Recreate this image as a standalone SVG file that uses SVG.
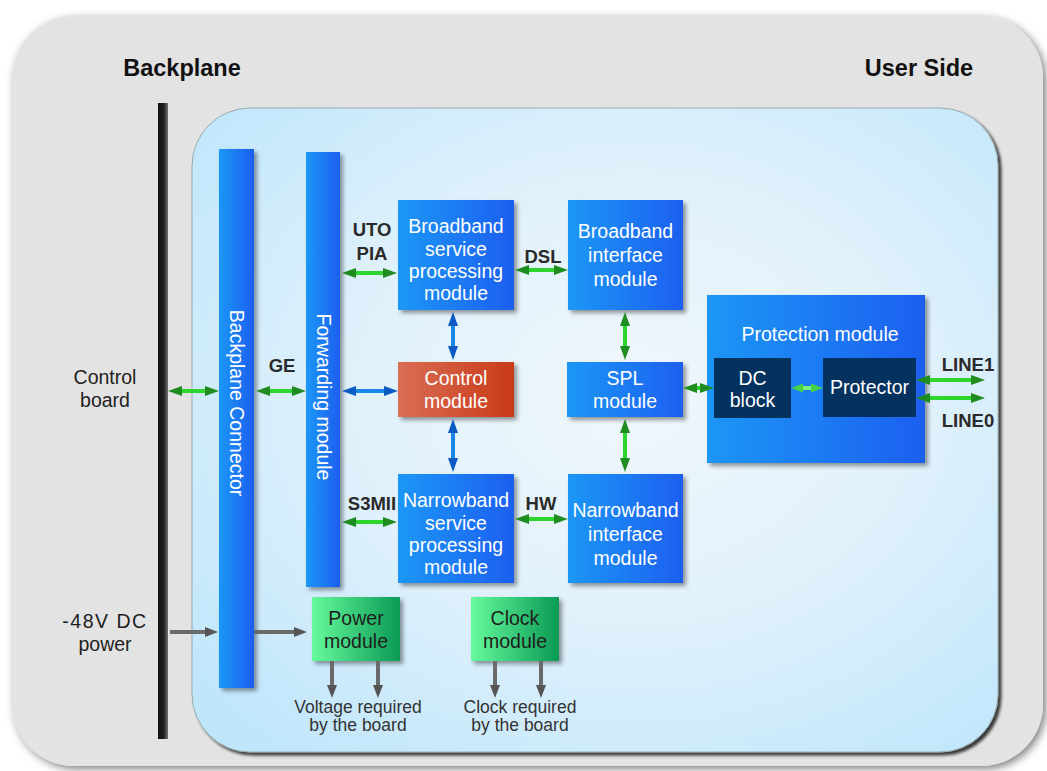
<svg xmlns="http://www.w3.org/2000/svg" width="1047" height="771" viewBox="0 0 1047 771">
<defs>
<style>
.mt{font-family:"Liberation Sans",Arial,sans-serif;font-size:19.5px;fill:#fff;text-anchor:middle}
.dt{font-family:"Liberation Sans",Arial,sans-serif;font-size:19.5px;fill:#1e1e1e;text-anchor:middle}
.st{font-family:"Liberation Sans",Arial,sans-serif;font-size:17.5px;fill:#333;text-anchor:middle}
.lb{font-family:"Liberation Sans",Arial,sans-serif;font-size:18.5px;font-weight:bold;fill:#2a2a2a;text-anchor:middle}
.hd{font-family:"Liberation Sans",Arial,sans-serif;font-size:23.5px;font-weight:bold;fill:#111;text-anchor:middle}
.ga{stroke:#2fd52f;stroke-width:4;fill:none;marker-start:url(#mg);marker-end:url(#mg)}
.la{stroke:#7af07a;stroke-width:4;fill:none;marker-start:url(#ml);marker-end:url(#ml)}
.ba{stroke:#1a86e8;stroke-width:4;fill:none;marker-start:url(#mb);marker-end:url(#mb)}
.ya{stroke:#6a6a6a;stroke-width:4;fill:none;marker-end:url(#my)}
</style>
<linearGradient id="gBlue" x1="0" y1="0" x2="1" y2="0">
<stop offset="0" stop-color="#1f97f6"/><stop offset="1" stop-color="#1f5ff0"/>
</linearGradient>
<linearGradient id="gRed" x1="0" y1="0" x2="1" y2="0">
<stop offset="0" stop-color="#da6e55"/><stop offset="1" stop-color="#c93a18"/>
</linearGradient>
<linearGradient id="gGreen" x1="0" y1="0" x2="1" y2="0">
<stop offset="0" stop-color="#66fa9c"/><stop offset="1" stop-color="#0a9a55"/>
</linearGradient>
<linearGradient id="gBar" x1="0" y1="0" x2="1" y2="0">
<stop offset="0" stop-color="#111"/><stop offset="0.6" stop-color="#222"/><stop offset="1" stop-color="#777"/>
</linearGradient>
<radialGradient id="gPanel" cx="0.55" cy="0.45" r="0.7">
<stop offset="0" stop-color="#f0f7fb"/><stop offset="0.5" stop-color="#e0f1fb"/><stop offset="1" stop-color="#c0e6fc"/>
</radialGradient>
<filter id="sh" x="-20%" y="-20%" width="150%" height="150%">
<feDropShadow dx="3" dy="3" stdDeviation="2" flood-color="#000" flood-opacity="0.4"/>
</filter>
<filter id="shP" x="-5%" y="-5%" width="110%" height="110%">
<feDropShadow dx="3" dy="3" stdDeviation="1.5" flood-color="#000" flood-opacity="0.75"/>
</filter>
<filter id="shO" x="-5%" y="-5%" width="110%" height="110%">
<feDropShadow dx="3" dy="3" stdDeviation="4" flood-color="#000" flood-opacity="0.5"/>
</filter>
<marker id="mg" markerUnits="userSpaceOnUse" markerWidth="14" markerHeight="10" refX="8" refY="5" orient="auto-start-reverse" viewBox="0 0 14 10">
<path d="M0,0 L14,5 L0,10 z" fill="#1f8c1f"/>
</marker>
<marker id="ml" markerUnits="userSpaceOnUse" markerWidth="12" markerHeight="9" refX="7" refY="4.5" orient="auto-start-reverse" viewBox="0 0 12 9">
<path d="M0,0 L12,4.5 L0,9 z" fill="#45d045"/>
</marker>
<marker id="mb" markerUnits="userSpaceOnUse" markerWidth="14" markerHeight="10" refX="8" refY="5" orient="auto-start-reverse" viewBox="0 0 14 10">
<path d="M0,0 L14,5 L0,10 z" fill="#0a5cc4"/>
</marker>
<marker id="my" markerUnits="userSpaceOnUse" markerWidth="13" markerHeight="10" refX="7" refY="5" orient="auto" viewBox="0 0 13 10">
<path d="M0,0 L13,5 L0,10 z" fill="#555"/>
</marker>
</defs>

<rect x="0" y="0" width="1047" height="771" fill="#fff"/>

<g id="frame">
<rect x="12" y="16" width="1031" height="750" rx="62" fill="#e3e3e3" filter="url(#shO)"/>
<text class="hd" x="182" y="76">Backplane</text>
<text class="hd" x="919" y="76">User Side</text>
<rect x="192" y="108" width="806" height="644" rx="58" fill="url(#gPanel)" stroke="#9aa" stroke-width="1" filter="url(#shP)"/>
<rect x="158" y="103" width="10" height="636" fill="url(#gBar)"/>
</g>

<g id="labels-left">
<text class="dt" x="105" y="384">Control</text>
<text class="dt" x="105" y="407">board</text>
<text class="dt" x="105" y="628" letter-spacing="1.5">-48V DC</text>
<text class="dt" x="105" y="651">power</text>
</g>

<g id="backplane-connector">
<rect x="219" y="149" width="35" height="539" fill="url(#gBlue)" filter="url(#sh)"/>
<text class="mt" transform="translate(236,403) rotate(90)" x="0" y="6">Backplane Connector</text>
</g>

<g id="forwarding-module">
<rect x="306" y="152" width="34" height="435" fill="url(#gBlue)" filter="url(#sh)"/>
<text class="mt" transform="translate(323,397) rotate(90)" x="0" y="6">Forwarding module</text>
</g>

<g id="broadband-service">
<rect x="398" y="200" width="116" height="110" fill="url(#gBlue)" filter="url(#sh)"/>
<text class="mt" x="456" y="233">Broadband</text>
<text class="mt" x="456" y="255.5">service</text>
<text class="mt" x="456" y="278">processing</text>
<text class="mt" x="456" y="300">module</text>
</g>

<g id="broadband-interface">
<rect x="568" y="200" width="115" height="110" fill="url(#gBlue)" filter="url(#sh)"/>
<text class="mt" x="625.5" y="238">Broadband</text>
<text class="mt" x="625.5" y="262">interface</text>
<text class="mt" x="625.5" y="286">module</text>
</g>

<g id="control-module">
<rect x="398" y="362" width="116" height="55" fill="url(#gRed)" filter="url(#sh)"/>
<text class="mt" x="456" y="385">Control</text>
<text class="mt" x="456" y="408">module</text>
</g>

<g id="spl-module">
<rect x="567" y="362" width="116" height="55" fill="url(#gBlue)" filter="url(#sh)"/>
<text class="mt" x="625" y="385">SPL</text>
<text class="mt" x="625" y="408">module</text>
</g>

<g id="narrowband-service">
<rect x="398" y="474" width="116" height="109" fill="url(#gBlue)" filter="url(#sh)"/>
<text class="mt" x="456" y="507">Narrowband</text>
<text class="mt" x="456" y="529.5">service</text>
<text class="mt" x="456" y="552">processing</text>
<text class="mt" x="456" y="574">module</text>
</g>

<g id="narrowband-interface">
<rect x="568" y="474" width="115" height="109" fill="url(#gBlue)" filter="url(#sh)"/>
<text class="mt" x="625.5" y="517">Narrowband</text>
<text class="mt" x="625.5" y="541">interface</text>
<text class="mt" x="625.5" y="565">module</text>
</g>

<g id="protection-module">
<rect x="707" y="295" width="218" height="168" fill="url(#gBlue)" filter="url(#sh)"/>
<text class="mt" x="820" y="341">Protection module</text>
</g>

<g id="dc-block">
<rect x="714" y="358" width="77" height="60" fill="#03325f"/>
<text class="mt" x="752.5" y="385">DC</text>
<text class="mt" x="752.5" y="407">block</text>
</g>

<g id="protector">
<rect x="823" y="358" width="93" height="59" fill="#03325f"/>
<text class="mt" x="869.5" y="394">Protector</text>
</g>

<g id="power-module">
<rect x="312" y="597" width="88" height="64" fill="url(#gGreen)" filter="url(#sh)"/>
<text class="dt" x="356" y="625">Power</text>
<text class="dt" x="356" y="648">module</text>
</g>

<g id="clock-module">
<rect x="471" y="597" width="88" height="64" fill="url(#gGreen)" filter="url(#sh)"/>
<text class="dt" x="515" y="625">Clock</text>
<text class="dt" x="515" y="648">module</text>
</g>

<g id="connectors">
<line class="ga" x1="174" y1="391" x2="213" y2="391"/>
<line class="ga" x1="262" y1="391" x2="300" y2="391"/>
<line class="ba" x1="348" y1="391" x2="392" y2="391"/>
<line class="ga" x1="348" y1="273" x2="391" y2="273"/>
<line class="ga" x1="521" y1="270" x2="562" y2="270"/>
<line class="ga" x1="348" y1="522" x2="391" y2="522"/>
<line class="ga" x1="521" y1="519" x2="562" y2="519"/>
<line class="ba" x1="453" y1="318" x2="453" y2="354"/>
<line class="ba" x1="453" y1="425" x2="453" y2="466"/>
<line class="ga" x1="625" y1="318" x2="625" y2="354"/>
<line class="ga" x1="625" y1="425" x2="625" y2="466"/>
<line class="ga" x1="689" y1="388" x2="708" y2="388"/>
<line class="la" x1="796" y1="388" x2="818" y2="388"/>
<line class="ga" x1="922" y1="380" x2="979" y2="380"/>
<line class="ga" x1="922" y1="398" x2="979" y2="398"/>
<line class="ya" x1="170" y1="632" x2="212" y2="632"/>
<line class="ya" x1="254" y1="632" x2="301" y2="632"/>
<line class="ya" x1="332" y1="661" x2="332" y2="692"/>
<line class="ya" x1="378" y1="661" x2="378" y2="692"/>
<line class="ya" x1="495" y1="661" x2="495" y2="692"/>
<line class="ya" x1="541" y1="661" x2="541" y2="692"/>
<text class="lb" x="282" y="372">GE</text>
<text class="lb" x="372" y="236">UTO</text>
<text class="lb" x="372" y="260">PIA</text>
<text class="lb" x="543" y="263">DSL</text>
<text class="lb" x="372" y="510">S3MII</text>
<text class="lb" x="541" y="510">HW</text>
<text class="lb" x="968" y="371" font-size="19">LINE1</text>
<text class="lb" x="968" y="427" font-size="19">LINE0</text>
<text class="st" x="358" y="713">Voltage required</text>
<text class="st" x="358" y="731">by the board</text>
<text class="st" x="520" y="713">Clock required</text>
<text class="st" x="520" y="731">by the board</text>
</g>
</svg>
